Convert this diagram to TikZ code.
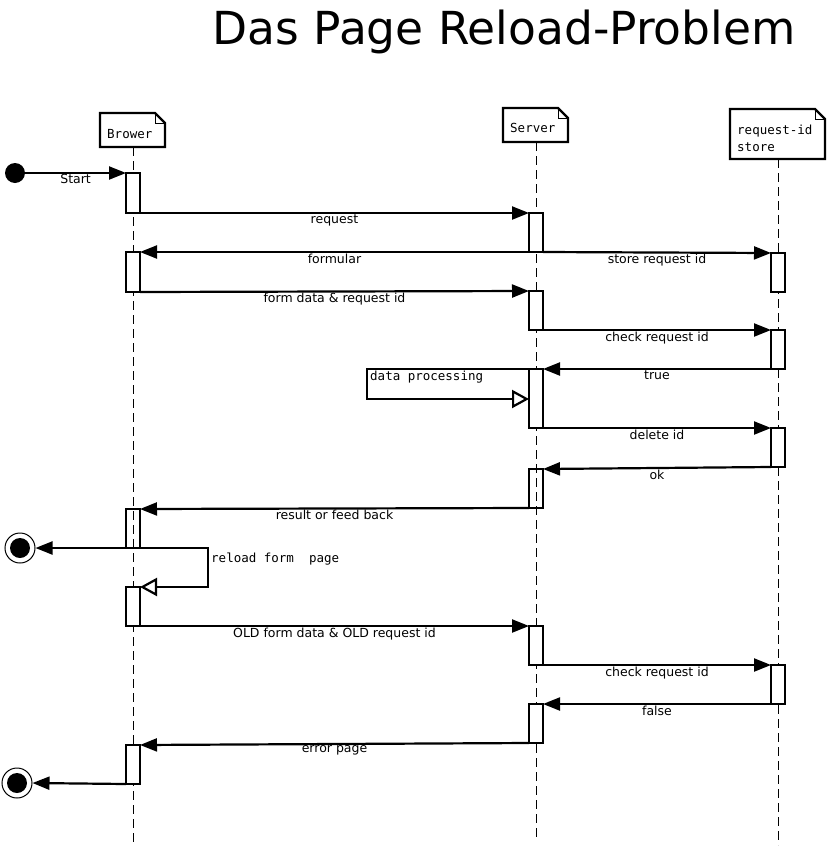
\documentclass[tikz,border=0pt]{standalone}
\usepackage{fontspec}
\setmainfont{DejaVu Sans}
\newfontfamily\monof{DejaVu Sans Mono}
\usetikzlibrary{arrows.meta}
\newcommand\drawnote[1]{%
  \draw[noteline] (#1.south west) -- (#1.north west) -- ([xshift=-10pt]#1.north east)
    -- ([yshift=-10pt]#1.north east) -- (#1.south east) -- cycle;
  \draw[line width=0.7pt] ([xshift=-10pt]#1.north east) |- ([yshift=-10pt]#1.north east);
}
\begin{document}
\begin{tikzpicture}[x=1pt,y=-1pt,
  msg/.style={line width=2.2pt, -{Triangle[length=17pt,width=13pt]}},
  selfmsg/.style={line width=2.2pt, -{Triangle[open,length=17pt,width=18pt,fill=white]}},
  life/.style={line width=0.9pt, dash pattern=on 9pt off 5pt},
  bar/.style={draw, fill=white, line width=2.2pt, minimum width=14pt, inner sep=0pt, outer sep=0pt},
  clearbar/.style={bar, fill=none},
  lbl/.style={font=\fontsize{12.5}{14}\selectfont, anchor=north, inner sep=0.5pt},
  notebox/.style={inner sep=0pt, outer sep=0pt},
  noteline/.style={line width=2.2pt, line join=miter},
  notetext/.style={font=\monof\fontsize{12.5}{17}\selectfont, align=left, inner sep=0pt, anchor=north west},
  monolbl/.style={font=\monof\fontsize{12.5}{15}\selectfont, inner sep=0pt, anchor=north west},
]
\useasboundingbox (0,0) rectangle (828,854);

% title
\node[font=\fontsize{45.5}{50}\selectfont, anchor=base, inner sep=0pt] (title) at (504,44) {Das Page Reload-Problem};

% notes
\node[notebox, minimum width=65pt, minimum height=34pt] (brower) at (132.5,130) {};
\node[notebox, minimum width=65pt, minimum height=34pt] (server) at (535.5,125) {};
\node[notebox, minimum width=95pt, minimum height=50pt] (store) at (777.5,134) {};
\drawnote{brower}
\drawnote{server}
\drawnote{store}
\node[notetext] (browerT) at (107,129) {Brower};
\node[notetext] (serverT) at (510,123) {Server};
\node[notetext] (storeT) at (737,125) {request-id\\store};

% lifelines
\coordinate (bEnd) at (133,845);
\coordinate (sEnd) at (536,838);
\coordinate (rEnd) at (778,845);
\draw[life] (brower.south -| bEnd) -- (bEnd);
\draw[life] (server.south -| sEnd) -- (sEnd);
\draw[life] (store.south -| rEnd) -- (rEnd);

% activation bars: browser
\node[bar, minimum height=40pt] (B1) at (133,193) {};
\node[bar, minimum height=40pt] (B2) at (133,272) {};
\node[clearbar, minimum height=39pt] (B3) at (133,528.5) {};
\node[bar, minimum height=39pt] (B4) at (133,606.5) {};
\node[bar, minimum height=39pt] (B5) at (133,764.5) {};
% server
\node[bar, minimum height=39pt] (S1) at (536,232.5) {};
\node[bar, minimum height=39pt] (S2) at (536,310.5) {};
\node[bar, minimum height=59pt] (S3) at (536,398.5) {};
\node[clearbar, minimum height=39pt] (S4) at (536,488.5) {};
\node[bar, minimum height=39pt] (S5) at (536,645.5) {};
\node[bar, minimum height=39pt] (S6) at (536,723.5) {};
% store
\node[bar, minimum height=39pt] (R1) at (778,272.5) {};
\node[bar, minimum height=39pt] (R2) at (778,349.5) {};
\node[bar, minimum height=39pt] (R3) at (778,447.5) {};
\node[bar, minimum height=39pt] (R4) at (778,684.5) {};

% start / end
\node[circle, fill=black, minimum size=20pt, inner sep=0pt] (start) at (15,173) {};
\node[circle, draw, line width=1pt, minimum size=30pt, inner sep=0pt] (end1) at (20,548) {};
\node[circle, fill=black, minimum size=20pt, inner sep=0pt] (end1in) at (20,548) {};
\node[circle, draw, line width=1pt, minimum size=30pt, inner sep=0pt] (end2) at (17,783) {};
\node[circle, fill=black, minimum size=20pt, inner sep=0pt] (end2in) at (17,783) {};

% messages
\draw[msg] (start.east) -- node[lbl]{Start} (B1.north west);
\draw[msg] (B1.south east) -- node[lbl]{request} (S1.north west);
\draw[msg] (S1.south west) -- node[lbl]{formular} (B2.north east);
\draw[msg] (S1.south east) -- node[lbl]{store request id} (R1.north west);
\draw[msg] (B2.south east) -- node[lbl]{form data \& request id} (S2.north west);
\draw[msg] (S2.south east) -- node[lbl]{check request id} (R2.north west);
\draw[msg] (R2.south west) -- node[lbl]{true} (S3.north east);

\coordinate (dpTop) at (367,369);
\coordinate (dpBot) at (367,399);
\draw[selfmsg] (S3.north west) -- (dpTop) -- (dpBot) -- (dpBot -| S3.west);
\node[monolbl] (dpl) at (370,371) {data processing};

\draw[msg] (S3.south east) -- node[lbl]{delete id} (R3.north west);
\draw[msg] (R3.south west) -- node[lbl]{ok} (S4.north east);
\draw[msg] (S4.south west) -- node[lbl]{result or feed back} (B3.north east);
\draw[msg] (B3.south west) -- (end1.east);

\coordinate (rlTop) at (208,548);
\coordinate (rlBot) at (208,587);
\draw[selfmsg] (B3.south east) -- (rlTop) -- (rlBot) -- (rlBot -| B4.east);
\node[monolbl] (rll) at (211,553) {reload form~ page};

\draw[msg] (B4.south east) -- node[lbl]{OLD form data \& OLD request id} (S5.north west);
\draw[msg] (S5.south east) -- node[lbl]{check request id} (R4.north west);
\draw[msg] (R4.south west) -- node[lbl]{false} (S6.north east);
\draw[msg] (S6.south west) -- node[lbl]{error page} (B5.north east);
\draw[msg] (B5.south west) -- (end2.east);
\end{tikzpicture}
\end{document}
